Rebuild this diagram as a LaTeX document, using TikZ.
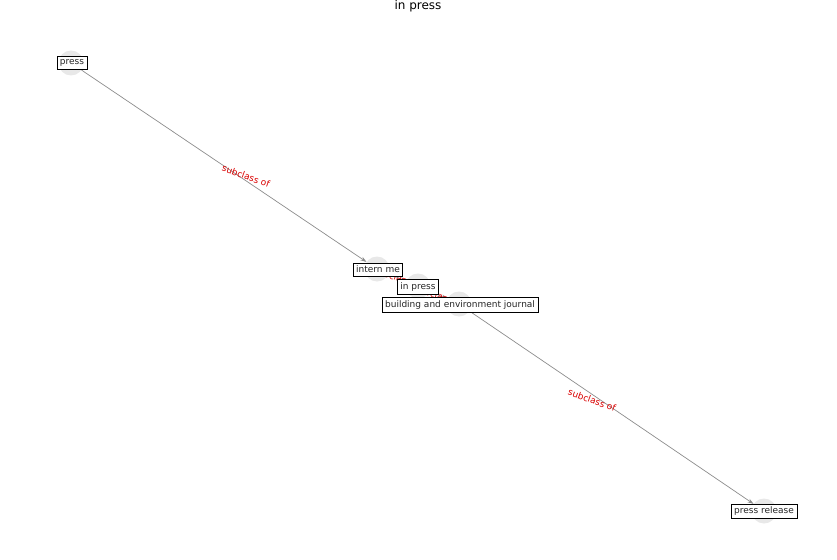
\documentclass[tikz,border=0pt]{standalone}
\usepackage{fontspec}
\setmainfont{DejaVu Sans}
\usetikzlibrary{arrows.meta}
\begin{document}
\begin{tikzpicture}[x=1pt,y=-1pt,
  dot/.style={circle,fill=black!9,draw=none,minimum size=25pt,inner sep=0pt},
  lbl/.style={draw=black,fill=white,line width=0.8pt,inner sep=3pt,font=\fontsize{9}{10}\selectfont,text=black!85},
  edge/.style={draw=black!45,line width=0.7pt,-{Stealth[length=6pt,width=4pt]}},
  elab/.style={text=red!85!black,font=\fontsize{9}{10}\selectfont,rotate=-20,inner sep=1pt}]
\useasboundingbox (0,0) rectangle (837,559);
\node[font=\fontsize{12}{13}\selectfont] (title) at (418,6) {in press};
\node[dot] (c1) at (71,63) {};
\node[dot] (c2) at (377,269) {};
\node[dot] (c3) at (418,286) {};
\node[dot] (c4) at (459,304) {};
\node[dot] (c5) at (764,511) {};
\draw[edge] (c1) -- (c2);
\draw[edge] (c2) -- (c3);
\draw[edge] (c3) -- (c4);
\draw[edge] (c4) -- (c5);
\node[elab] (l1) at (246,176) {subclass of};
\node[elab] (l2) at (398,278) {subclass of};
\node[elab] (l3) at (439,296) {subclass of};
\node[elab] (l4) at (592,400) {subclass of};
\node[lbl] (press) at (72,63) {press};
\node[lbl] (intern) at (378,269.5) {intern me};
\node[lbl] (inpress) at (418,287) {in press};
\node[lbl] (build) at (460,305) {building and environment journal};
\node[lbl] (release) at (764,511.5) {press release};
\end{tikzpicture}
\end{document}
